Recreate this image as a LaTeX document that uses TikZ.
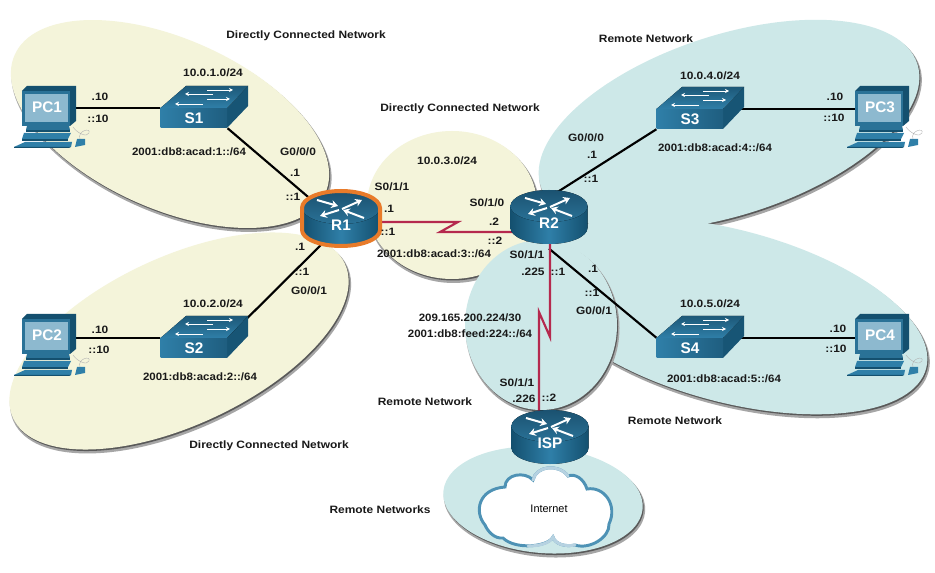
\documentclass[tikz,border=0pt]{standalone}
\usepackage{fontspec}
\setmainfont{Liberation Sans}
\newfontfamily\lblfont{Liberation Sans}[FakeStretch=1.12]
\newfontfamily\addrfont{Liberation Sans}[FakeStretch=1.08]
\newcommand\addr{\addrfont\bfseries}
\usetikzlibrary{calc,arrows.meta}
\definecolor{yel}{HTML}{F4F4DA}
\definecolor{teal}{HTML}{CDE8E8}
\definecolor{rdk}{HTML}{14506F}
\definecolor{rmd}{HTML}{2F7FA8}
\definecolor{rtop}{HTML}{246E96}
\definecolor{serial}{HTML}{B5294E}
\definecolor{ring}{HTML}{E87B2A}
\pgfdeclarelayer{bg}\pgfdeclarelayer{mid}
\pgfsetlayers{bg,mid,main}
\tikzset{
 lan/.style={line width=1.6pt,black},
 wan/.style={line width=1.6pt,serial},
 lbl/.style={font=\lblfont\bfseries\fontsize{8}{9}\selectfont,inner sep=0pt,text=black!90},
 devname/.style={font=\bfseries\fontsize{11.5}{12}\selectfont,text=white,inner sep=0pt},
 routerbox/.style={minimum width=57pt,minimum height=38pt,inner sep=0pt},
 switchbox/.style={minimum width=50pt,minimum height=15pt,inner sep=0pt},
 pcbox/.style={minimum width=32pt,minimum height=21pt,inner sep=0pt},
 arr/.style={white,line width=1.5pt,-{Stealth[length=5pt,width=6pt]}},
 thin arr/.style={white,line width=.7pt,-{Stealth[length=3pt,width=3pt]}}
}
% router centred at top-ellipse centre
\newcommand\routericon[2]{%
 \begin{scope}[shift={(#1,#2)}]
  \fill[left color=rdk,right color=rdk,middle color=rmd] (-38.5,0) -- (-38.5,22) arc[start angle=180,end angle=0,x radius=38.5,y radius=16] -- (38.5,0) -- cycle;
  \fill[top color=rtop!75!black,bottom color=rmd!90!black] (0,0) ellipse[x radius=38.5,y radius=16];
  \draw[arr] (-24,-8) -- (-3,-2);
  \draw[arr] (1,1) -- (21,-8);
  \draw[arr] (-2,2) -- (-21,8);
  \draw[arr] (23,10) -- (2,2);
 \end{scope}}
% switch: (x,y) = middle of the front face
\newcommand\switchicon[2]{%
 \begin{scope}[shift={(#1,#2)}]
  \fill[rdk!90!rmd] (33,-10) -- (54,-32) -- (54,-12) -- (33,10) -- cycle;
  \fill[left color=rmd,right color=rtop!85!black] (-33.5,-10) rectangle (33,10);
  \fill[top color=rtop!80!black,bottom color=rmd] (-33.5,-10) -- (-8,-32) -- (54,-32) -- (33,-10) -- cycle;
  \draw[thin arr] (13,-28) -- (39,-28);
  \draw[thin arr] (19,-24) -- (-9,-24);
  \draw[thin arr] (13,-19) -- (36,-19);
  \draw[thin arr] (9,-14) -- (-19,-14);
 \end{scope}}
% pc: (x,y)= centre of screen
\newcommand\pcicon[2]{%
 \begin{scope}[shift={(#1,#2)}]
  \fill[rdk] (-25,-16) -- (-20,-21) -- (29,-21) -- (29,14) -- (23,19) -- (-25,19) -- cycle;
  \fill[rmd!90!black] (-25,-16) rectangle (23,19);
  \fill[rmd!55!white] (-22,-13) rectangle (21,15);
  \fill[rmd!90!black] (-20,19) -- (22,19) -- (23,23) -- (-21,23) -- cycle;
  \fill[rdk] (-21,23) rectangle (23,25);
  \fill[rmd] (-23,26) -- (24,26) -- (21,32) -- (-25,32) -- cycle;
  \fill[rdk] (-25,32) rectangle (21,34);
  \fill[rmd] (-22,35) -- (25,35) -- (24,40) -- (-33,40) -- cycle;
  \fill[rdk] (-33,40) -- (24,40) -- (22,41) -- (-33,41) -- cycle;
  \fill[rmd] (30,32) -- (38,32) -- (38,38) -- (28,40) -- cycle;
  \draw[gray!60,line width=.3pt] (33,32) .. controls (30,24) and (44,20) .. (42,26) .. controls (40,31) and (30,26) .. (26,20);
 \end{scope}}
\newcommand\zoneshape[6]{% cx cy a b rot colour
 \begin{pgfonlayer}{bg}
  \fill[black!35,rotate around={#5:(#1+1.5,#2+3)}] (#1+1.5,#2+3) ellipse[x radius=#3+1,y radius=#4+1];
  \fill[black!65,rotate around={#5:(#1+1,#2+1.5)}] (#1+1,#2+1.5) ellipse[x radius=#3,y radius=#4];
  \fill[#6,rotate around={#5:(#1,#2)}] (#1,#2) ellipse[x radius=#3,y radius=#4];
 \end{pgfonlayer}}
\begin{document}
\begin{tikzpicture}[x=0.75pt,y=-0.75pt]
\useasboundingbox (0,0) rectangle (935,573);
\begin{pgfonlayer}{bg}
\fill[white] (0,0) rectangle (935,573);
\end{pgfonlayer}
% zones
\zoneshape{170}{124}{170}{85}{-24}{yel}
\zoneshape{179}{341}{183}{84}{25}{yel}
\zoneshape{452}{205}{85}{74}{0}{yel}
\zoneshape{729}{125}{198}{90}{18}{teal}
\zoneshape{730}{316}{203}{86}{-15}{teal}
\zoneshape{541}{325}{76}{85}{0}{teal}
\zoneshape{543}{500}{100}{53}{-5}{teal}
% devices
\routericon{341}{208}
\routericon{549}{206}
\routericon{550}{426}
\switchicon{194}{118}
\switchicon{194}{348}
\switchicon{690}{119}
\switchicon{690}{348}
\pcicon{47}{107}
\pcicon{47}{335}
\pcicon{880}{107}
\pcicon{880}{335}
% orange ring around R1
\draw[ring,line width=3pt] (302,208) -- (302,230) arc[start angle=180,end angle=0,x radius=39,y radius=16] -- (380,208) arc[start angle=0,end angle=-180,x radius=39,y radius=17] -- cycle;
% nodes
\node[routerbox,devname] (R1) at (341,225) {\raisebox{-5pt}{R1}};
\node[routerbox,devname] (R2) at (549,223) {\raisebox{-5pt}{R2}};
\node[routerbox,devname] (ISP) at (550,443) {\raisebox{-5pt}{ISP}};
\node[switchbox,devname] (S1) at (194,118) {S1};
\node[switchbox,devname] (S2) at (194,348) {S2};
\node[switchbox,devname] (S3) at (690,119) {S3};
\node[switchbox,devname] (S4) at (690,348) {S4};
\node[pcbox,devname] (PC1) at (47,107) {PC1};
\node[pcbox,devname] (PC2) at (47,335) {PC2};
\node[pcbox,devname] (PC3) at (880,107) {PC3};
\node[pcbox,devname] (PC4) at (880,335) {PC4};
% connectors
\coordinate (z1) at (458,222);
\coordinate (z2) at (440,232);
\coordinate (v0) at (550,224);
\coordinate (v1) at (550,337);
\coordinate (v2) at (539,312);
\coordinate (v3) at (539,420);
\begin{pgfonlayer}{mid}
\draw[lan] (PC1.center |- S1.north west) -- (S1.north west);
\draw[lan] (PC2.center |- S2.north west) -- (S2.north west);
\draw[lan] (S3.north) -- (S3.north -| PC3.center);
\draw[lan] (S4.north) -- (S4.north -| PC4.center);
\draw[lan] (S1.south east) -- (R1.center);
\draw[lan] (S2.north east) -- (R1.center);
\draw[lan] (S3.south west) -- (R2.north);
\draw[lan] (S4.north west) -- (R2.south);
\draw[wan] (R1.center) |- (z1) -- (z2) -- (z2 -| R2.center);
\draw[wan] (v0) -- (v1) -- (v2) -- (v3);
\end{pgfonlayer}
% cloud
\draw[fill=white,draw=rmd!85!white,line width=2.2pt] (485,525) .. controls (474,512) and (478,489) .. (505,487) .. controls (505,474) and (525,471) .. (533,480) .. controls (536,466) and (558,463) .. (568,476) .. controls (575,473) and (584,479) .. (587,489) .. controls (604,486) and (618,505) .. (609,524) .. controls (610,537) and (590,550) .. (575,545) .. controls (565,547) and (555,544) .. (553,537) .. controls (548,547) and (515,550) .. (503,538) .. controls (495,539) and (488,532) .. (485,525) -- cycle;
\draw[rmd!35!white,line width=2.2pt,line cap=round] (533,480) .. controls (536,466) and (558,463) .. (568,476);
\draw[rmd!35!white,line width=2.2pt,line cap=round] (575,545) .. controls (565,547) and (555,544) .. (553,537) .. controls (550,543) and (540,546) .. (528,546);
\node[font=\fontsize{8.2}{10}\selectfont,inner sep=0pt] (inettxt) at (549,509) {Internet};
% labels
\foreach \x/\y/\t in {
306/36/{Directly Connected Network},
646/39/{Remote Network},
460/109/{Directly Connected Network},
269/446/{Directly Connected Network},
425/402/{Remote Network},
675/421/{Remote Network},
380/510/{Remote Networks},
213/73/{10.0.1.0/24},
213/304/{10.0.2.0/24},
710/76/{10.0.4.0/24},
710/304/{10.0.5.0/24},
447/161/{10.0.3.0/24},
189/152/{\addr 2001:db8:acad:1::/64},
200/377/{\addr 2001:db8:acad:2::/64},
715/148/{\addr 2001:db8:acad:4::/64},
724/379/{\addr 2001:db8:acad:5::/64},
434/254/{\addr 2001:db8:acad:3::/64},
470/318/{\addr 209.165.200.224/30},
470/334/{\addr 2001:db8:feed:224::/64},
100/97/{.10},98/119/{::10},100/330/{.10},99/350/{::10},
835/97/{.10},834/118/{::10},838/329/{.10},836/349/{::10},
298/152/{G0/0/0},295/173/{.1},293/197/{::1},
300/247/{.1},302/272/{::1},309/291/{G0/0/1},
392/187/{S0/1/1},389/209/{.1},388/232/{::1},
487/203/{S0/1/0},494/222/{.2},495/241/{::2},
586/138/{G0/0/0},592/155/{.1},591/179/{::1},
527/255/{S0/1/1},533/272/{.225},558/272/{::1},
593/269/{.1},592/293/{::1},594/311/{G0/0/1},
517/383/{S0/1/1},524/399/{.226},549/398/{::2}}
{\node[lbl] at (\x,\y) {\t};}
\end{tikzpicture}
\end{document}
